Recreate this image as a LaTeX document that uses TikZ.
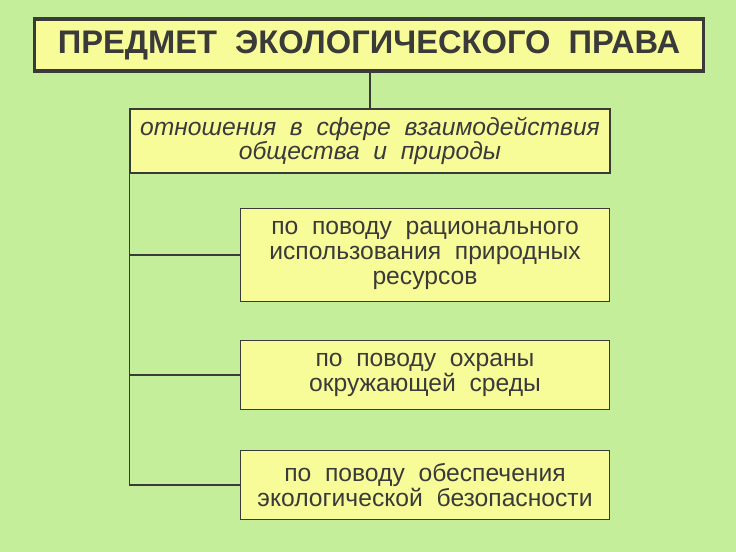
\documentclass[tikz,border=0pt]{standalone}
\usepackage{fontspec}
\setmainfont{Liberation Sans}
\definecolor{bgGreen}{RGB}{196,238,154}
\definecolor{boxYellow}{RGB}{248,252,152}
\definecolor{lineGray}{RGB}{58,58,58}
\tikzset{every picture/.style={line width=0.75pt},
  box/.style={draw=lineGray,fill=boxYellow,line width=1pt,align=center,inner sep=0.75pt,text=lineGray,font=\fontsize{18.5}{18.75}\selectfont},
  link/.style={draw=lineGray,line width=1pt}}
\begin{document}
\begin{tikzpicture}[x=0.75pt,y=0.75pt,yscale=-1,xscale=1]
\path[fill=bgGreen] (0,0) rectangle (736,552);
\useasboundingbox (0,0) rectangle (736,552);

% Title
\node[box,line width=2.5pt,minimum width=502pt,minimum height=39pt,font=\bfseries\fontsize{24.5}{26}\selectfont] (title) at (369,45) {ПРЕДМЕТ\ \ ЭКОЛОГИЧЕСКОГО\ \ ПРАВА};
% Relations
\node[box,minimum width=360pt,minimum height=48pt,font=\itshape\fontsize{18.5}{18}\selectfont] (rel) at (370,141) {отношения\ \ в\ \ сфере\ \ взаимодействия\\общества\ \ и\ \ природы};
% Branches
\node[box,minimum width=277pt,minimum height=70pt] (res) at (425,255) {по\ \ поводу\ \ рационального\\использования\ \ природных\\ресурсов};
\node[box,minimum width=277pt,minimum height=52pt] (env) at (425,375) {по\ \ поводу\ \ охраны\\окружающей\ \ среды};
\node[box,minimum width=277pt,minimum height=52pt] (safe) at (425,485) {по\ \ поводу\ \ обеспечения\\экологической\ \ безопасности};

% Connections
\draw[link] (title.south -| rel.north) -- (rel.north);
\coordinate (trunk) at (rel.south west);
\draw[link] (trunk) |- (safe.west);
\draw[link] (trunk |- res.west) -- (res.west);
\draw[link] (trunk |- env.west) -- (env.west);
\end{tikzpicture}
\end{document}
